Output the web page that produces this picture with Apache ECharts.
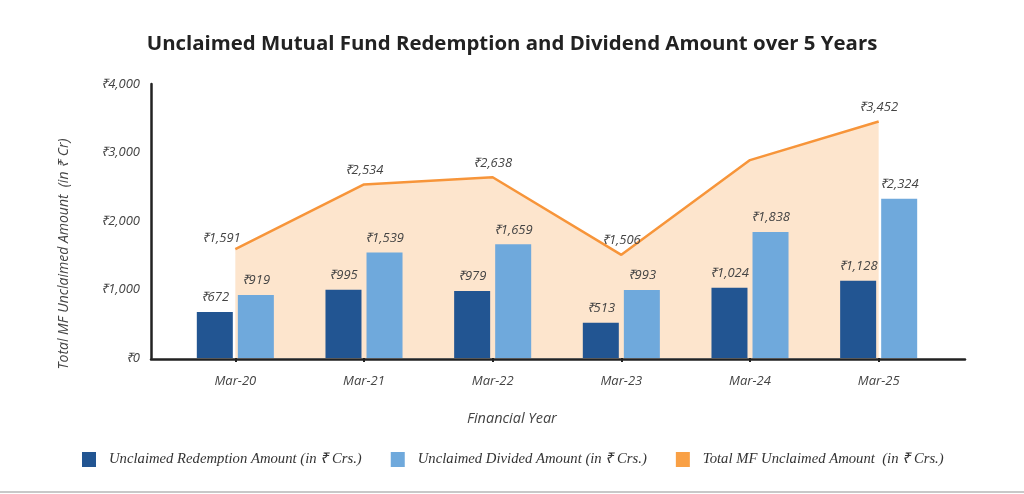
<!DOCTYPE html>
<html>
<head>
<meta charset="utf-8">
<script src="https://cdn.jsdelivr.net/npm/echarts@6/dist/echarts.min.js"></script>
<style>
  html, body { margin: 0; padding: 0; background: #fff; }
  #chart { width: 1024px; height: 494px; }
</style>
</head>
<body>
<div id="chart"></div>
<script>
var years = ['Mar-20', 'Mar-21', 'Mar-22', 'Mar-23', 'Mar-24', 'Mar-25'];
var redemption = [672, 995, 979, 513, 1024, 1128];
var dividend = [919, 1539, 1659, 993, 1838, 2324];
var totalMF = [1591, 2534, 2638, 1506, 2889, 3452];
var totalLabels = [true, true, true, true, false, true];

var labelFont = 'Open Sans';
var rupee = function (v) {
    return '₹' + v.toLocaleString('en-IN');
};

var barLabel = {
    show: true,
    position: 'top',
    distance: 8,
    fontFamily: labelFont,
    fontStyle: 'italic',
    fontSize: 13,
    color: '#444',
    formatter: function (p) { return rupee(p.value); }
};

// total line: labels sit above the point, first one nudged left
var totalData = totalMF.map(function (v, i) {
    var item = { value: v, label: { show: totalLabels[i] } };
    if (i == 0) item.label.offset = [-14, 4];
    return item;
});

var myChart = echarts.init(document.getElementById('chart'));
myChart.setOption({
    animation: false,
    title: {
        text: 'Unclaimed Mutual Fund Redemption and Dividend Amount over 5 Years',
        left: 'center',
        top: 29,
        textStyle: { fontFamily: labelFont, fontWeight: 'bold', fontSize: 20.4, color: '#222' }
    },
    legend: {
        left: 82,
        top: 452,
        padding: 0,
        itemWidth: 14,
        itemHeight: 15,
        itemGap: 29,
        icon: 'rect',
        textStyle: {
            fontFamily: 'Liberation Serif',
            fontStyle: 'italic',
            fontSize: 14.7,
            color: '#333',
            padding: [0, 0, 0, 8]
        },
        data: [
            { name: 'Unclaimed Redemption Amount (in ₹ Crs.)' },
            { name: 'Unclaimed Divided Amount (in ₹ Crs.)' },
            { name: 'Total MF Unclaimed Amount  (in ₹ Crs.)', itemStyle: { color: '#F9A045' } }
        ]
    },
    grid: [
        { left: 171, right: 81, top: 84, bottom: 136 },
        { left: 151, right: 59, top: 84, bottom: 135 }
    ],
    xAxis: [{
        type: 'category',
        gridIndex: 0,
        data: years,
        axisLine: { show: false },
        axisTick: { show: true, alignWithLabel: true, length: 4, lineStyle: { color: '#222', width: 2 } },
        axisLabel: { margin: 17, fontFamily: labelFont, fontStyle: 'italic', fontSize: 13, color: '#444' }
    }, {
        type: 'category',
        gridIndex: 1,
        data: [],
        axisLine: { show: true, lineStyle: { color: '#222', width: 2.5 } },
        axisTick: { show: false },
        axisLabel: { show: false }
    }],
    yAxis: [{
        type: 'value',
        gridIndex: 0,
        min: 0,
        max: 4000,
        interval: 1000,
        offset: 20,
        name: 'Total MF Unclaimed Amount  (in ₹ Cr)',
        nameLocation: 'middle',
        nameGap: 80,
        nameTextStyle: {
            fontFamily: labelFont, fontStyle: 'italic', fontSize: 14, color: '#444',
            padding: [0, 66, 0, 0]
        },
        axisLine: { show: true, lineStyle: { color: '#222', width: 2.5 } },
        axisTick: { show: false },
        splitLine: { show: false },
        axisLabel: {
            margin: 11,
            fontFamily: labelFont, fontStyle: 'italic', fontSize: 13, color: '#444',
            formatter: function (v) { return rupee(v); }
        }
    }, {
        type: 'value',
        gridIndex: 1,
        show: false
    }],
    graphic: [{
        type: 'text',
        left: 467,
        top: 411,
        style: { text: 'Financial Year', fontFamily: labelFont, fontStyle: 'italic', fontSize: 14.5, fill: '#444' }
    }, {
        type: 'rect',
        left: 0,
        top: 491,
        shape: { width: 1024, height: 2 },
        style: { fill: '#c8c8c8' }
    }],
    series: [{
        name: 'Total MF Unclaimed Amount  (in ₹ Crs.)',
        type: 'line',
        z: 1,
        data: totalData,
        symbol: 'circle',
        symbolSize: 0,
        lineStyle: { color: '#F7953A', width: 2.5 },
        itemStyle: { color: '#F7953A' },
        areaStyle: { color: '#FDE5CD', opacity: 1 },
        label: {
            show: true,
            position: 'top',
            distance: 8,
            fontFamily: labelFont,
            fontStyle: 'italic',
            fontSize: 13,
            color: '#444',
            formatter: function (p) { return rupee(p.value); }
        }
    }, {
        name: 'Unclaimed Redemption Amount (in ₹ Crs.)',
        type: 'bar',
        z: 3,
        data: redemption,
        barWidth: 36,
        barGap: '14%',
        itemStyle: { color: '#225592' },
        label: barLabel
    }, {
        name: 'Unclaimed Divided Amount (in ₹ Crs.)',
        type: 'bar',
        z: 3,
        data: dividend,
        barWidth: 36,
        itemStyle: { color: '#6FA9DC' },
        label: barLabel
    }]
});
window.onresize = myChart.resize;
</script>
</body>
</html>
